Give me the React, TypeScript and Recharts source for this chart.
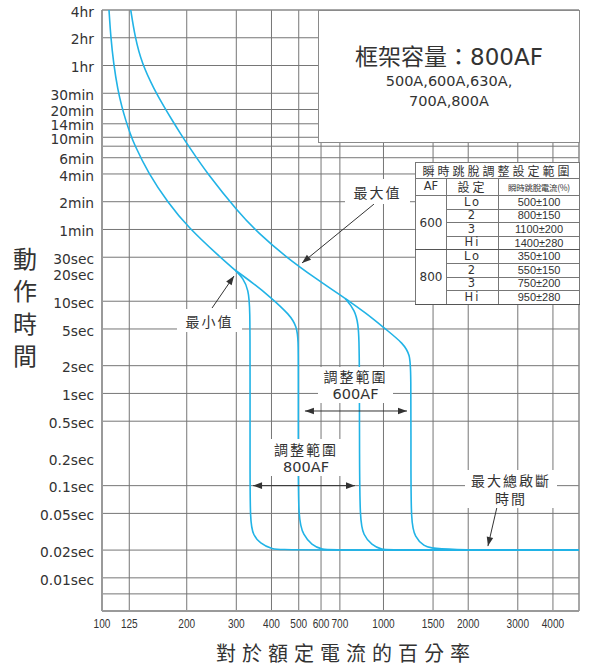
import React from 'react';
import { LineChart, Line, XAxis, YAxis, ReferenceLine } from 'recharts';

// ---------- axes ----------
const xTicks = [100, 125, 200, 300, 400, 500, 600, 700, 1000, 1500, 2000, 3000, 4000];
const xGrid = [125, 200, 300, 400, 500, 600, 700, 1000, 1500, 2000, 3000, 4000];
const xDomain = [100, 4950];

const yTickValues = [14400, 7200, 3600, 1800, 1200, 840, 600, 360, 240, 120, 60, 30, 20, 10, 5, 2, 1, 0.5, 0.2, 0.1, 0.05, 0.02, 0.01];
const yTickLabels = ['4hr', '2hr', '1hr', '30min', '20min', '14min', '10min', '6min', '4min', '2min', '1min', '30sec', '20sec', '10sec', '5sec', '2sec', '1sec', '0.5sec', '0.2sec', '0.1sec', '0.05sec', '0.02sec', '0.01sec'];
const yGrid = [7200, 3600, 1800, 1200, 840, 600, 480, 360, 240, 120, 60, 30, 10, 5, 2, 1, 0.5, 0.1, 0.05, 0.02, 0.01, 0.0067];
const yDomain = [0.00437, 14400];

// ---------- curves (x: % of rated current, t: seconds) ----------
const minThermal = [
  { x: 105.9, t: 14400 }, { x: 107.4, t: 7392 }, { x: 109.9, t: 3804 }, { x: 113.8, t: 1953 },
  { x: 117.6, t: 1287 }, { x: 121.3, t: 923 }, { x: 126.1, t: 651 }, { x: 129.7, t: 516 },
  { x: 146.0, t: 244 }, { x: 172.3, t: 115.3 }, { x: 201.2, t: 64.3 }, { x: 261.5, t: 30.4 },
  { x: 296.9, t: 21.8 },
];
const minBranchLo = [
  { x: 296.9, t: 21.8 }, { x: 317.7, t: 17.72 }, { x: 331.0, t: 13.23 }, { x: 335.7, t: 8.72 },
  { x: 335.7, t: 1.8 }, { x: 335.7, t: 0.2 }, { x: 335.7, t: 0.039 }, { x: 344.8, t: 0.0291 },
  { x: 364.1, t: 0.0237 }, { x: 400.6, t: 0.0204 }, { x: 450, t: 0.02 }, { x: 4950, t: 0.02 },
];
const minBranchHi = [
  { x: 296.9, t: 21.8 }, { x: 344.8, t: 15.64 }, { x: 395.2, t: 11.19 }, { x: 465.5, t: 7.09 },
  { x: 491.8, t: 5.29 }, { x: 498.2, t: 3.8 }, { x: 498.2, t: 1.8 }, { x: 498.2, t: 0.2 },
  { x: 498.2, t: 0.0423 }, { x: 519, t: 0.0291 }, { x: 555.8, t: 0.0227 }, { x: 603.4, t: 0.0201 },
  { x: 680, t: 0.02 }, { x: 4950, t: 0.02 },
];
const maxThermal = [
  { x: 126.5, t: 14400 }, { x: 130.9, t: 7392 }, { x: 138.4, t: 3804 }, { x: 153.6, t: 1953 },
  { x: 166.1, t: 1287 }, { x: 177.3, t: 923 }, { x: 189.7, t: 662 }, { x: 203.8, t: 474 },
  { x: 236.0, t: 244 }, { x: 304.2, t: 93.5 }, { x: 359.7, t: 54.5 }, { x: 450.4, t: 30.2 },
  { x: 571.1, t: 17.85 }, { x: 729.8, t: 10.75 },
];
const maxBranchLo = [
  { x: 729.8, t: 10.75 }, { x: 792.1, t: 8.02 }, { x: 813.8, t: 5.52 }, { x: 818.5, t: 3.8 },
  { x: 821.7, t: 1.8 }, { x: 821.7, t: 0.2 }, { x: 825, t: 0.0423 }, { x: 847.5, t: 0.0291 },
  { x: 908, t: 0.0227 }, { x: 985, t: 0.0201 }, { x: 1080, t: 0.02 }, { x: 4950, t: 0.02 },
];
const maxBranchHi = [
  { x: 729.8, t: 10.75 }, { x: 866.8, t: 7.45 }, { x: 1026.6, t: 4.87 }, { x: 1176, t: 3.49 },
  { x: 1242, t: 2.61 }, { x: 1252, t: 1.79 }, { x: 1252, t: 0.2 }, { x: 1252, t: 0.039 },
  { x: 1294, t: 0.0279 }, { x: 1385, t: 0.0221 }, { x: 1524, t: 0.02 }, { x: 4950, t: 0.02 },
];

// ---------- annotation arrows (data coords) ----------
const arrowMax = [{ x: 925, t: 113 }, { x: 513.5, t: 26 }];
const arrowMin = [{ x: 246, t: 8.44 }, { x: 294.4, t: 18.76 }];
const arrowBreak = [{ x: 2531, t: 0.0587 }, { x: 2350, t: 0.0221 }];
const range600 = [{ x: 526, t: 0.645 }, { x: 1212, t: 0.645 }];
const range800 = [{ x: 344, t: 0.1 }, { x: 792, t: 0.1 }];

// ---------- table ----------
const tableTitle = '瞬時跳脫調整設定範圍';
const tableHeader = ['AF', '設定', '瞬時跳脫電流(%)'];
const tripAF = ['600', '800'];
const tripSettings = ['Lo', '2', '3', 'Hi'];
const trip600 = ['500±100', '800±150', '1100±200', '1400±280'];
const trip800 = ['350±100', '550±150', '750±200', '950±280'];

const BLUE = '#21b3e6';
const GRID = '#767676';
const TXT = '#333';
const LATIN = "'DejaVu Sans', 'Noto Sans CJK TC', sans-serif";
const CJK = "'Noto Sans CJK TC', 'DejaVu Sans', sans-serif";

const XTick = (props: any) => {
  const { x, y, payload } = props;
  const s = String(payload.value);
  return (
    <text
      x={x} y={y} dy={9} textAnchor="middle" fontFamily="'Liberation Sans', sans-serif" fontSize={13} fill={TXT}
      textLength={s.length * 5.6} lengthAdjust="spacingAndGlyphs"
    >
      {s}
    </text>
  );
};

const YTick = (props: any) => {
  const { x, y, payload } = props;
  const i = yTickValues.indexOf(payload.value);
  return (
    <text x={x} y={y} dy={6.7} textAnchor="end" fontFamily={LATIN} fontSize={13.8} fill={TXT}>
      {i >= 0 ? yTickLabels[i] : ''}
    </text>
  );
};

const head = (hx: number, hy: number, a: number) => {
  const L = 9, W = 3.3;
  const bx = hx - L * Math.cos(a), by = hy - L * Math.sin(a);
  return `${hx},${hy} ${bx + W * Math.sin(a)},${by - W * Math.cos(a)} ${bx - W * Math.sin(a)},${by + W * Math.cos(a)}`;
};

const makeArrow = (both: boolean) => (p: any) => {
  const { x1, y1, x2, y2 } = p;
  const a = Math.atan2(y2 - y1, x2 - x1);
  return (
    <g>
      <line x1={x1} y1={y1} x2={x2} y2={y2} stroke="#333" strokeWidth={1} />
      <polygon points={head(x2, y2, a)} fill="#333" />
      {both ? <polygon points={head(x1, y1, a + Math.PI)} fill="#333" /> : null}
    </g>
  );
};

const seg = (arr: { x: number; t: number }[]) => arr.map((p) => ({ x: p.x, y: p.t }));

const Box = ({ left, top, width, height, lines, size = 14, spacing = 2, lh = 18 }: any) => (
  <div
    style={{
      position: 'absolute', left, top, width, height, background: '#fff',
      display: 'flex', flexDirection: 'column', alignItems: 'center', justifyContent: 'center',
      fontFamily: CJK, fontSize: size, color: TXT, lineHeight: `${lh}px`, letterSpacing: spacing,
    }}
  >
    {lines.map((l: any, i: number) => (
      <div key={i} style={typeof l === 'string' ? {} : l.style}>{typeof l === 'string' ? l : l.text}</div>
    ))}
  </div>
);

const cell: React.CSSProperties = { border: '1px solid #777', padding: 0, textAlign: 'center', lineHeight: 1 };

export default function App() {
  const lineProps = { dataKey: 't', type: 'basis' as const, stroke: BLUE, strokeWidth: 1.6, dot: false, activeDot: false, isAnimationActive: false };
  return (
    <div style={{ position: 'absolute', left: 0, top: 0, width: 589, height: 668, background: '#fff', overflow: 'hidden' }}>
      <LineChart width={589} height={668} margin={{ top: 10, right: 10, bottom: 27, left: 0 }}>
        <XAxis
          dataKey="x" type="number" scale="log" domain={xDomain} allowDataOverflow ticks={xTicks}
          interval={0} tickLine={false} axisLine={false} height={30} tick={<XTick />}
        />
        <YAxis
          type="number" scale="log" domain={yDomain} allowDataOverflow ticks={yTickValues}
          interval={0} tickLine={false} axisLine={false} width={102} tick={<YTick />}
        />
        {xGrid.map((v) => (
          <ReferenceLine key={'gx' + v} x={v} stroke={GRID} strokeWidth={1} ifOverflow="visible" />
        ))}
        {yGrid.map((v) => (
          <ReferenceLine key={'gy' + v} y={v} stroke={GRID} strokeWidth={1} ifOverflow="visible" />
        ))}
        <ReferenceLine x={xDomain[0]} stroke="#9a9a9a" strokeWidth={2} ifOverflow="visible" />
        <ReferenceLine x={xDomain[1]} stroke="#8a8a8a" strokeWidth={1.5} ifOverflow="visible" />
        <ReferenceLine y={yDomain[1]} stroke="#8a8a8a" strokeWidth={1.5} ifOverflow="visible" />
        <ReferenceLine y={yDomain[0]} stroke="#9a9a9a" strokeWidth={2} ifOverflow="visible" />

        <Line data={minThermal} {...lineProps} />
        <Line data={minBranchLo} {...lineProps} />
        <Line data={minBranchHi} {...lineProps} />
        <Line data={maxThermal} {...lineProps} />
        <Line data={maxBranchLo} {...lineProps} />
        <Line data={maxBranchHi} {...lineProps} />

        <ReferenceLine segment={seg(arrowMax)} shape={makeArrow(false)} ifOverflow="visible" />
        <ReferenceLine segment={seg(arrowMin)} shape={makeArrow(false)} ifOverflow="visible" />
        <ReferenceLine segment={seg(arrowBreak)} shape={makeArrow(false)} ifOverflow="visible" />
        <ReferenceLine segment={seg(range600)} shape={makeArrow(true)} ifOverflow="visible" />
        <ReferenceLine segment={seg(range800)} shape={makeArrow(true)} ifOverflow="visible" />
      </LineChart>

      {/* frame capacity box */}
      <div
        style={{
          position: 'absolute', left: 318, top: 10, width: 260, height: 131, background: '#fff',
          border: '1px solid #8a8a8a', color: TXT, textAlign: 'center',
        }}
      >
        <div style={{ position: 'absolute', left: 0, right: 0, top: 29, fontFamily: LATIN, fontSize: 23, lineHeight: '30px' }}>
          <span style={{ fontFamily: CJK }}>框架容量：</span>800AF
        </div>
        <div style={{ position: 'absolute', left: 0, right: 0, top: 60, fontFamily: LATIN, fontSize: 14.5, lineHeight: '20px' }}>
          500A,600A,630A,
        </div>
        <div style={{ position: 'absolute', left: 0, right: 0, top: 80, fontFamily: LATIN, fontSize: 14.5, lineHeight: '20px' }}>
          700A,800A
        </div>
      </div>

      {/* trip setting table */}
      <table
        style={{
          position: 'absolute', left: 415, top: 162, width: 164, height: 142, borderCollapse: 'collapse',
          background: '#fff', tableLayout: 'fixed', color: TXT, fontFamily: LATIN,
        }}
      >
        <colgroup>
          <col style={{ width: 31 }} />
          <col style={{ width: 52 }} />
          <col style={{ width: 81 }} />
        </colgroup>
        <tbody>
          <tr style={{ height: 16 }}>
            <td colSpan={3} style={{ ...cell, fontFamily: CJK, fontSize: 12, letterSpacing: 3 }}>{tableTitle}</td>
          </tr>
          <tr style={{ height: 17 }}>
            <td style={{ ...cell, fontSize: 11.5 }}>{tableHeader[0]}</td>
            <td style={{ ...cell, fontFamily: CJK, fontSize: 12, letterSpacing: 3 }}>{tableHeader[1]}</td>
            <td style={{ ...cell, fontFamily: "'Noto Sans CJK TC', sans-serif", fontSize: 8.5, letterSpacing: -0.3 }}>{tableHeader[2]}</td>
          </tr>
          {tripAF.map((af, g) =>
            tripSettings.map((s, i) => (
              <tr key={af + s} style={{ height: 13.6 }}>
                {i === 0 ? (
                  <td rowSpan={4} style={{ ...cell, fontSize: 12, borderBottom: '1.5px solid #555' }}>{af}</td>
                ) : null}
                <td style={{ ...cell, fontSize: 11.5, letterSpacing: 2, borderBottom: i === 3 ? '1.5px solid #555' : cell.border }}>{s}</td>
                <td style={{ ...cell, fontFamily: "'Liberation Sans', sans-serif", fontSize: 11, borderBottom: i === 3 ? '1.5px solid #555' : cell.border }}>
                  {(g === 0 ? trip600 : trip800)[i]}
                </td>
              </tr>
            ))
          )}
        </tbody>
      </table>

      {/* annotation labels */}
      <Box left={345} top={179} width={65} height={25} lines={['最大值']} />
      <Box left={177} top={309} width={65} height={23} lines={['最小值']} />
      <Box
        left={318} top={367} width={75} height={36}
        lines={['調整範圍', { text: '600AF', style: { fontFamily: LATIN, letterSpacing: 0, fontSize: 14.5 } }]}
      />
      <Box
        left={270} top={439} width={72} height={37}
        lines={['調整範圍', { text: '800AF', style: { fontFamily: LATIN, letterSpacing: 0, fontSize: 14.5 } }]}
      />
      <Box left={465} top={470} width={92} height={38} lines={['最大總啟斷', '時間']} />

      {/* axis titles */}
      <div style={{ position: 'absolute', left: 11, top: 242, width: 28, fontFamily: CJK, fontSize: 24, color: TXT, textAlign: 'center' }}>
        {'動作時間'.split('').map((c, i) => (
          <div key={i} style={{ height: 32.3, lineHeight: '32.3px' }}>{c}</div>
        ))}
      </div>
      <div
        style={{
          position: 'absolute', left: 140, top: 640, width: 400, textAlign: 'center', fontFamily: CJK,
          fontSize: 20, letterSpacing: 6, color: TXT, lineHeight: '26px', paddingLeft: 6,
        }}
      >
        對於額定電流的百分率
      </div>
    </div>
  );
}
